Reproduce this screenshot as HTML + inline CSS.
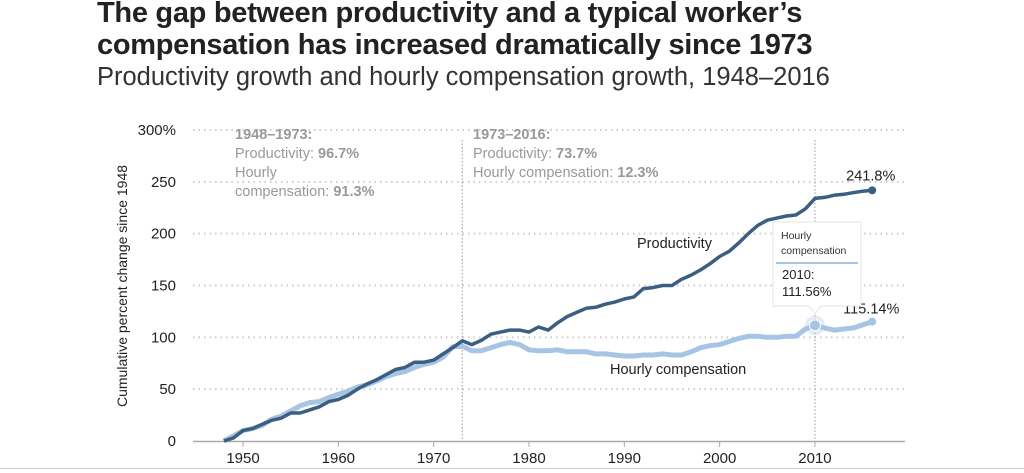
<!DOCTYPE html>
<html><head><meta charset="utf-8"><style>
body{margin:0;width:1024px;height:473px;background:#fff;overflow:hidden;font-family:"Liberation Sans",sans-serif;position:relative}
.t{position:absolute;left:97px;top:-3px;font-size:29px;font-weight:bold;color:#222;line-height:32px;letter-spacing:-0.3px}
.s{position:absolute;left:97px;top:63px;font-size:25.5px;color:#333}
svg{position:absolute;left:0;top:0}
</style></head><body>
<div class="t">The gap between productivity and a typical worker’s<br>compensation has increased dramatically since 1973</div>
<div class="s">Productivity growth and hourly compensation growth, 1948–2016</div>
<svg id="c" width="1024" height="473"></svg>
<script>
const years=[];for(let y=1948;y<=2016;y++)years.push(y);
const productivity=[0,3,10,12,16,20,22,27,27,30,33,38,40,44,50,55,59,64,69,71,76,76,78,84,90,96.7,93,97,103,105,107,107,105,110,107,114,120,124,128,129,132,134,137,139,147,148,150,150,156,160,165,171,178,183,191,200,208,213,215,217,218,224,234,235,237,238,239.5,241,241.8];
const compensation=[0,5,10,12,15,21,24,29,34,37,38,42,45,48,52,54,58,62,65,67,71,74,76,81,91,91.3,87,87,90,93,95,93,88,87,87,88,86,86,86,84,84,83,82,82,83,83,84,83,83,86,90,92,93,96,99,101,101,100,100,101,101,108,111.56,109,107,108,109,112,115.14];
const yTicks=[0,50,100,150,200,250,300];
const xTicks=[1950,1960,1970,1980,1990,2000,2010];
const NS='http://www.w3.org/2000/svg';const svg=document.getElementById('c');
const X=y=>243+(y-1950)*9.533;const Y=v=>441-v*1.0367;
function mk(tag,at,txt){const e=document.createElementNS(NS,tag);for(const k in at)e.setAttribute(k,at[k]);if(txt!==undefined)e.textContent=txt;svg.appendChild(e);return e;}
yTicks.forEach(v=>{
 if(v>0){const g=mk('line',{x1:193,x2:905,y1:Y(v),y2:Y(v),stroke:'#ccc','stroke-width':2,'stroke-dasharray':'1.5 4'});
 
 }
 const t=mk('text',{x:176,y:Y(v)+5,'text-anchor':'end','font-size':15,fill:'#222'},v===300?'300%':v);
 
 
});
const ax=mk('line',{x1:193,x2:905,y1:441.5,y2:441.5,stroke:'#aaa','stroke-width':1.5});


xTicks.forEach(v=>{mk('line',{x1:X(v),x2:X(v),y1:441,y2:447,stroke:'#aaa'});
 const t=mk('text',{x:X(v),y:463,'text-anchor':'middle','font-size':15,fill:'#222'},v);
 
 });
const yt=mk('text',{transform:'translate(127,286) rotate(-90)','text-anchor':'middle','font-size':14,fill:'#222'},'Cumulative percent change since 1948');


[1973,2010].forEach(yr=>{const l=mk('line',{x1:X(yr),x2:X(yr),y1:Y(300)+10,y2:441,stroke:'#aaa','stroke-width':1.2,'stroke-dasharray':'1.5 2'});
 
 });
function ann(x,y,lines){lines.forEach((ln,i)=>{const t=mk('text',{x:x,y:y+i*19,'font-size':14.5,fill:'#999'});
 ln.forEach(([s,b])=>{const sp=document.createElementNS(NS,'tspan');sp.textContent=s;if(b)sp.setAttribute('font-weight','bold');t.appendChild(sp);});
 
 });}
ann(235,139,[[['1948–1973:',1]],[['Productivity: '],['96.7%',1]],[['Hourly']],[['compensation: '],['91.3%',1]]]);
ann(473,139,[[['1973–2016:',1]],[['Productivity: '],['73.7%',1]],[['Hourly compensation: '],['12.3%',1]]]);
const pts=a=>a.map((v,i)=>X(years[i]).toFixed(1)+','+Y(v).toFixed(1)).join(' ');
const cl=mk('polyline',{points:pts(compensation),fill:'none',stroke:'#a6c4e4','stroke-width':5,'stroke-linejoin':'round'});


const pl=mk('polyline',{points:pts(productivity),fill:'none',stroke:'#3a5f82','stroke-width':3.5,'stroke-linejoin':'round'});


const n=years.length-1;
mk('circle',{cx:X(2016),cy:Y(productivity[n]),r:4,fill:'#3a5f82'});
mk('circle',{cx:X(2016),cy:Y(compensation[n]),r:4,fill:'#a6c4e4'});
const i10=years.indexOf(2010);
mk('circle',{cx:X(2010),cy:Y(compensation[i10]),r:10,fill:'#a6c4e4',opacity:0.3});
const hp=mk('circle',{cx:X(2010),cy:Y(compensation[i10]),r:5.5,fill:'#a6c4e4',stroke:'#fff','stroke-width':1});


let t=mk('text',{x:X(2016)-26,y:Y(productivity[n])-10,'font-size':14.5,fill:'#222'},'241.8%');


t=mk('text',{x:X(2016)-29,y:Y(compensation[n])-8,'font-size':14.5,fill:'#222'},'115.14%');


t=mk('text',{x:637,y:248,'font-size':14.5,fill:'#222'},'Productivity');


t=mk('text',{x:610,y:374,'font-size':14.5,fill:'#222'},'Hourly compensation');


const tipX=773,tipY=222;
const tb=mk('path',{d:`M${tipX} ${tipY}h88v84h-40l-6 8l-6 -8h-36z`,fill:'#fff',stroke:'#e6e6e6'});


mk('text',{x:781,y:239,'font-size':10.5,fill:'#333'},'Hourly');
mk('text',{x:781,y:254,'font-size':10.5,fill:'#333'},'compensation');
mk('line',{x1:776,x2:858,y1:263,y2:263,stroke:'#a6c4e4','stroke-width':2});
mk('text',{x:782,y:279,'font-size':13,fill:'#222'},'2010:');
mk('text',{x:782,y:296,'font-size':13,fill:'#222'},'111.56%');
mk('line',{x1:0,x2:1024,y1:468.5,y2:468.5,stroke:'#ccc'});
</script>
</body></html>
